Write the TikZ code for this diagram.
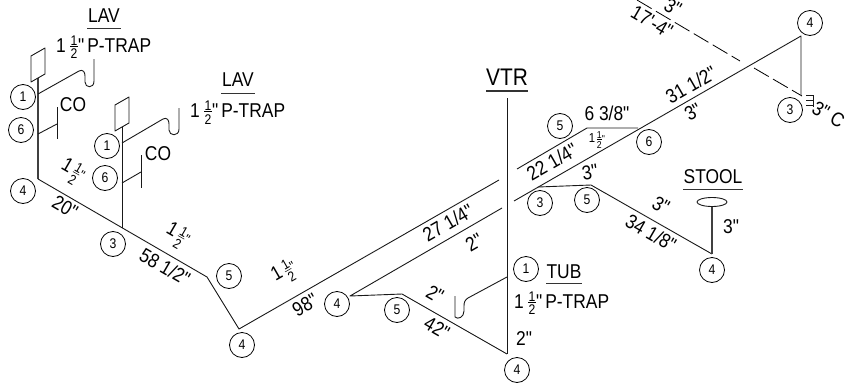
\documentclass[tikz,border=0pt]{standalone}
\usepackage{fontspec}
\newfontfamily\lsf[FakeStretch=.87]{Liberation Sans}
\newcommand{\fr}[1][14]{$\vcenter{\hbox{\fontsize{#1}{#1}\selectfont\shortstack[c]{1\\[-2.2pt]\rule{.52em}{.5pt}\\[-.6pt]2}}}$}
\newcommand{\frtext}[3]{{\fontsize{#1}{#1}\selectfont 1\kern#3pt}\fr[#2]{\fontsize{#2}{#2}\selectfont"}}
\tikzset{
  x=1pt,y=-1pt,
  pipe/.style={line width=.9pt,black!90,line join=round},
  thick pipe/.style={line width=1.1pt,black!75},
  tagc/.style={draw,circle,line width=.8pt,minimum size=25pt,inner sep=0pt,font=\fontsize{14}{14}\selectfont},
  lab/.style={inner sep=0pt,font=\fontsize{20}{20}\selectfont},
  big/.style={inner sep=0pt,font=\fontsize{24}{24}\selectfont},
  ulin/.style={line width=.9pt,black!80},
  dim/.style={lab,rotate=30},
  dimd/.style={lab,rotate=-30},
  dashline/.style={line width=.8pt,dash pattern=on 17pt off 5pt},
}
\begin{document}
\begin{tikzpicture}
\lsf
\useasboundingbox (0,0) rectangle (846,383);
\clip (0,0) rectangle (846,383);
% junction points
\coordinate (a0) at (38,78);
\coordinate (a1) at (38,94);
\coordinate (a2) at (38,134);
\coordinate (a3) at (38,179);
\coordinate (b0) at (122,127);
\coordinate (b1) at (122,143);
\coordinate (b2) at (122,183);
\coordinate (b3) at (122,228);
\coordinate (c1) at (207,277);
\coordinate (c2) at (239,329);
\coordinate (c3) at (499,180);
\coordinate (d1) at (350,296);
\coordinate (d2) at (402,294);
\coordinate (d3) at (507,354);
\coordinate (d4) at (502,208);
\coordinate (v0) at (507,98);
\coordinate (t0) at (507,277);
\coordinate (e0) at (517,169);
\coordinate (e1) at (587,128);
\coordinate (e2) at (638,128);
\coordinate (f0) at (514,201);
\coordinate (f1) at (801,36);
\coordinate (f2) at (801,95);
\coordinate (g0) at (538,187);
\coordinate (g1) at (591,185);
\coordinate (g2) at (712,254);
\coordinate (g3) at (712,206);
\coordinate (h0) at (637,0);
\coordinate (h1) at (740,61);
\coordinate (h2) at (754,68);
\coordinate (h3) at (802,96);
% left lavatory
\draw[thick pipe] (a0) -- (a3);
\draw[pipe] (31,56) -- (45,48) -- (45,74) -- (31,82) -- cycle;
\draw[pipe] (a1) -- (79,71) .. controls (83,69) and (85,72) .. (85,76) -- (85,82) .. controls (85,88) and (94,89) .. (94,81) -- (94,59);
\draw[pipe] (a2) -- (57,124);
\draw[pipe] (57,107) -- (57,139);
\node[lab] (co1) at (73,105) {CO};
\node[tagc] (n1) at (23,97) {1};
\node[tagc] (n2) at (21,130) {6};
\node[tagc] (n3) at (23,191) {4};
\node[lab] (lav1) at (104,16) {LAV};
\draw[ulin] (87,28) -- (121,28);
\node[lab,anchor=west] (ls1) at (56,47) {1\kern4.5pt\fr\kern.5pt"\kern3pt P-TRAP};
% second lavatory
\draw[pipe] (b0) -- (b3);
\draw[pipe] (115,105) -- (129,97) -- (129,123) -- (115,131) -- cycle;
\draw[pipe] (b1) -- (163,119) .. controls (167,117) and (169,120) .. (169,124) -- (169,130) .. controls (169,136) and (179,137) .. (179,129) -- (179,108);
\draw[pipe] (b2) -- (141,172);
\draw[pipe] (141,155) -- (141,188);
\node[lab] (co2) at (158,154) {CO};
\node[tagc] (n4) at (107,146) {1};
\node[tagc] (n5) at (105,178) {6};
\node[lab] (lav2) at (238,80) {LAV};
\draw[ulin] (221,93) -- (255,93);
\node[lab,anchor=west] (ls2) at (190,112.5) {1\kern4.5pt\fr\kern.5pt"\kern3pt P-TRAP};
% main run
\draw[pipe] (a3) -- (c1) -- (c2) -- (c3);
\draw[pipe] (d4) -- (d1) -- (d2) -- (d3);
\draw[pipe] (v0) -- (d3);
\node[tagc] (n6) at (113,244) {3};
\node[tagc] (n7) at (229,276) {5};
\node[tagc] (n8) at (242,345) {4};
\node[tagc] (n9) at (337,304) {4};
\node[tagc] (n10) at (397,310) {5};
\node[tagc] (n11) at (517,370) {4};
\node[dimd] (d20) at (65,207) {20"};
\node[dimd] (d58) at (165,267) {58 1/2"};
\node[dim] (d98) at (305,305) {98"};
\node[dim] (d27) at (448,223) {27 1/4"};
\node[dim] (d2a) at (474,242) {2"};
\node[dimd] (d2b) at (435,294) {2"};
\node[dimd] (d42) at (437,328) {42"};
\node[lab] (d2c) at (524,339) {2"};
% fractions along the run
\node[inner sep=0pt,rotate=-30] (m1) at (72,172) {\frtext{20}{14}{3}};
\node[inner sep=0pt,rotate=-30] (m2) at (177,236) {\frtext{20}{14}{3}};
\node[inner sep=0pt,rotate=30] (m3) at (285,273) {\frtext{20}{14}{3}};
% tub
\draw[pipe] (t0) -- (468,298) .. controls (465,300) and (464,302) .. (464,306) -- (464,311) .. controls (464,317) and (458,320) .. (455,317) -- (455,296);
\node[tagc] (n12) at (526,269) {1};
\node[lab] (tub) at (564,272) {TUB};
\draw[ulin] (546,283) -- (582,283);
\node[lab,anchor=west] (ls3) at (514,303) {1\kern4.5pt\fr\kern.5pt"\kern3pt P-TRAP};
% VTR
\node[big] (vtr) at (507,77) {VTR};
\draw[ulin,line width=1.1pt] (486,91) -- (528,91);
% right side
\draw[pipe] (e0) -- (e1) -- (e2);
\draw[pipe] (f0) -- (f1) -- (f2);
\draw[pipe] (g0) -- (g1) -- (g2);
\draw[thick pipe] (g3) -- (g2);
\draw[pipe] (712,202) ellipse [x radius=15,y radius=4.5];
\node[tagc] (n13) at (560,126) {5};
\node[tagc] (n14) at (649,142) {6};
\node[tagc] (n15) at (540,203) {3};
\node[tagc] (n16) at (587,200) {5};
\node[tagc] (n17) at (712,270) {4};
\node[tagc] (n18) at (810,23) {4};
\node[tagc] (n19) at (790,110) {3};
\node[lab] (stool) at (713,177) {STOOL};
\draw[ulin] (683,189) -- (743,189);
\node[lab] (d3a) at (731,227) {3"};
\node[lab] (d63) at (607,113) {6 3/8"};
\node[inner sep=0pt] (m4) at (597,140) {\frtext{13}{10}{1.5}};
\node[dim] (d22) at (552,162) {22 1/4"};
\node[lab,rotate=10] (d3b) at (590,172) {3"};
\node[dim] (d31) at (691,85) {31 1/2"};
\node[dim] (d3c) at (693,112) {3"};
\node[dimd] (d3d) at (661,205) {3"};
\node[dimd] (d34) at (651,233) {34 1/8"};
% dashed overhead
\draw[dashline] (h0) -- (h1);
\draw[dashline] (h2) -- (h3);
\draw[pipe] (806,95) -- (813,95) (806,100) -- (813,100) (806,105) -- (813,105) (813,95) -- (813,107);
\node[lab,rotate=-30,anchor=west] (d3e) at (814,106) {3" C};
\node[dimd] (d17) at (652,22) {17'-4"};
\node[dimd] (d3f) at (673,7) {3"};
\end{tikzpicture}
\end{document}
